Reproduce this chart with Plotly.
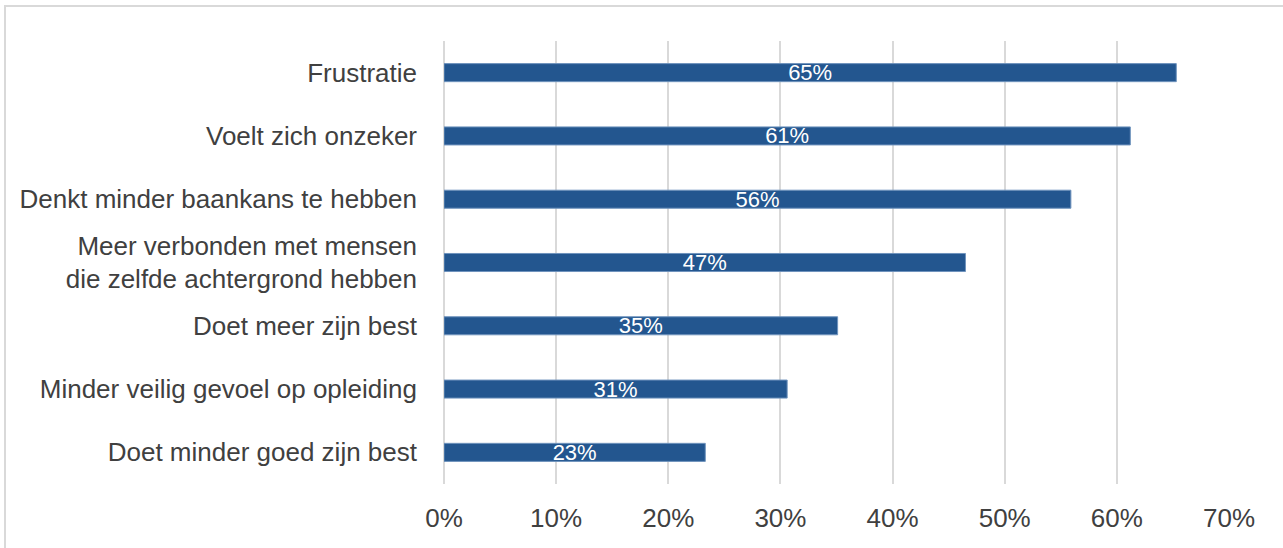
import plotly.graph_objects as go

categories = [
    "Frustratie",
    "Voelt zich onzeker",
    "Denkt minder baankans te hebben",
    "Meer verbonden met mensen<br>die zelfde achtergrond hebben",
    "Doet meer zijn best",
    "Minder veilig gevoel op opleiding",
    "Doet minder goed zijn best",
]
values = [0.653, 0.612, 0.559, 0.465, 0.351, 0.306, 0.233]
labels = ["65%", "61%", "56%", "47%", "35%", "31%", "23%"]
tick_vals = [0, 0.1, 0.2, 0.3, 0.4, 0.5, 0.6, 0.7]
tick_text = ["0%", "10%", "20%", "30%", "40%", "50%", "60%", "70%"]

font_family = "Liberation Sans, Arial, sans-serif"

fig = go.Figure()
fig.add_trace(go.Bar(
    x=values,
    y=categories,
    orientation="h",
    marker=dict(color="#23568f", line=dict(color="#6f93bd", width=1)),
    text=labels,
    textposition="inside",
    insidetextanchor="middle",
    textangle=0,
    constraintext="none",
    textfont=dict(family=font_family, size=22, color="white"),
    cliponaxis=False,
    hoverinfo="skip",
))

L, R, T, B = 444, 54, 41, 64
W, H = 1283, 548
pw = W - L - R
ph = H - T - B

def px(xp):
    return (xp - L) / pw

def py(yp):
    return (H - B - yp) / ph

fig.update_layout(
    width=W,
    height=H,
    margin=dict(l=L, r=R, t=T, b=B, pad=0),
    paper_bgcolor="white",
    plot_bgcolor="white",
    bargap=0.715,
    showlegend=False,
    font=dict(family=font_family, color="#404040", size=26),
    xaxis=dict(
        range=[0, 0.7],
        tickvals=tick_vals,
        ticktext=tick_text,
        showgrid=True,
        gridcolor="#d9d9d9",
        gridwidth=2,
        zeroline=True,
        zerolinecolor="#d9d9d9",
        zerolinewidth=2,
        showline=False,
        ticks="",
        ticklabelstandoff=16,
        tickfont=dict(size=26, color="#404040"),
        fixedrange=True,
    ),
    yaxis=dict(
        categoryorder="array",
        categoryarray=categories[::-1],
        showgrid=False,
        zeroline=False,
        showline=False,
        ticks="",
        ticklabelstandoff=26,
        tickfont=dict(size=26, color="#404040"),
        fixedrange=True,
    ),
    shapes=[dict(
        type="rect", xref="paper", yref="paper",
        x0=px(5), x1=px(1295), y0=py(560), y1=py(6),
        line=dict(color="#d9d9d9", width=2), fillcolor="rgba(0,0,0,0)",
        layer="below",
    )],
)

fig.write_html(
    "out.html",
    config={"displayModeBar": False},
    post_script="document.body.style.margin='0';document.body.style.overflow='hidden';",
)
